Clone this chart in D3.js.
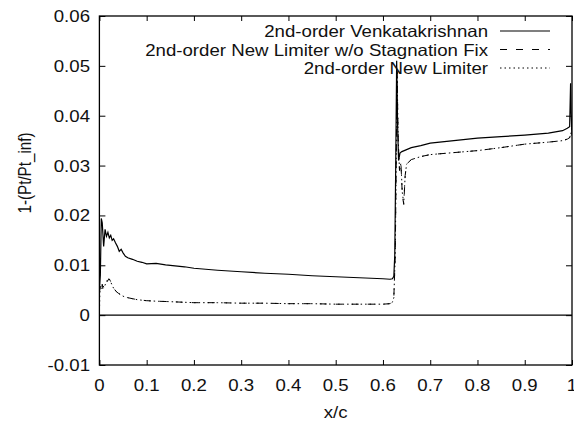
<!DOCTYPE html>
<html>
<head>
<meta charset="utf-8">
<script src="https://cdn.jsdelivr.net/npm/d3@7"></script>
<style>
  html, body { margin: 0; padding: 0; background: #fff; }
  svg { display: block; }
  text { font-family: "Liberation Sans", Arial, sans-serif; fill: #111; }
</style>
</head>
<body>
<svg id="chart" width="574" height="423"></svg>
<script>
// ---- data ----
const xTicks = [0, 0.1, 0.2, 0.3, 0.4, 0.5, 0.6, 0.7, 0.8, 0.9, 1];
const xTickLabels = ["0", "0.1", "0.2", "0.3", "0.4", "0.5", "0.6", "0.7", "0.8", "0.9", "1"];
const yTicks = [-0.01, 0, 0.01, 0.02, 0.03, 0.04, 0.05, 0.06];
const yTickLabels = ["-0.01", "0", "0.01", "0.02", "0.03", "0.04", "0.05", "0.06"];
const seriesNames = ["2nd-order Venkatakrishnan", "2nd-order New Limiter w/o Stagnation Fix", "2nd-order New Limiter"];

const venkX = [0, 0.002, 0.004, 0.006, 0.009, 0.012, 0.015, 0.018, 0.021, 0.024, 0.027, 0.03, 0.034, 0.038, 0.042, 0.046, 0.05, 0.055, 0.06, 0.07, 0.08, 0.09, 0.1, 0.12, 0.14, 0.16, 0.18, 0.2, 0.25, 0.3, 0.35, 0.4, 0.45, 0.5, 0.55, 0.6, 0.615, 0.62, 0.623, 0.625, 0.627, 0.629, 0.631, 0.633, 0.636, 0.64, 0.645, 0.65, 0.66, 0.68, 0.7, 0.75, 0.8, 0.85, 0.9, 0.95, 0.98, 0.99, 0.995, 0.997, 0.998, 1.0];
const venkY = [0.005, 0.008, 0.0194, 0.0185, 0.0138, 0.0172, 0.0158, 0.0166, 0.0155, 0.016, 0.015, 0.0153, 0.0145, 0.0138, 0.0128, 0.0132, 0.0125, 0.0118, 0.0115, 0.0112, 0.0108, 0.0106, 0.0103, 0.0104, 0.0101, 0.0099, 0.0097, 0.0094, 0.009, 0.0087, 0.0084, 0.0082, 0.0079, 0.0077, 0.0075, 0.0073, 0.0072, 0.0073, 0.0078, 0.012, 0.03, 0.051, 0.038, 0.031, 0.0325, 0.0328, 0.033, 0.0332, 0.0336, 0.034, 0.0345, 0.035, 0.0355, 0.0358, 0.0361, 0.0365, 0.037, 0.0375, 0.0378, 0.0465, 0.041, 0.036];

const noFixX = [0, 0.002, 0.004, 0.006, 0.008, 0.011, 0.014, 0.017, 0.02, 0.023, 0.027, 0.031, 0.036, 0.04, 0.045, 0.05, 0.06, 0.07, 0.08, 0.1, 0.12, 0.15, 0.2, 0.25, 0.3, 0.35, 0.4, 0.45, 0.5, 0.55, 0.6, 0.615, 0.62, 0.623, 0.626, 0.628, 0.63, 0.632, 0.635, 0.638, 0.641, 0.644, 0.647, 0.65, 0.66, 0.68, 0.7, 0.75, 0.8, 0.85, 0.9, 0.95, 0.98, 0.99, 0.995, 0.998, 1.0];
const noFixY = [0.0045, 0.0058, 0.0048, 0.0062, 0.0052, 0.0058, 0.0062, 0.0068, 0.0073, 0.0069, 0.006, 0.0053, 0.0047, 0.0044, 0.0041, 0.0038, 0.0035, 0.0033, 0.0031, 0.0029, 0.0028, 0.0027, 0.0025, 0.0025, 0.0024, 0.0024, 0.0023, 0.0023, 0.0022, 0.0022, 0.0022, 0.0023, 0.0026, 0.0035, 0.012, 0.03, 0.049, 0.036, 0.029, 0.0305, 0.024, 0.0222, 0.028, 0.0303, 0.0312, 0.0318, 0.0322, 0.0326, 0.033, 0.0336, 0.0343, 0.0347, 0.035, 0.0353, 0.0356, 0.0365, 0.038];

const newX = [0, 0.001, 0.003, 0.005, 0.007, 0.01, 0.013, 0.016, 0.019, 0.022, 0.026, 0.03, 0.035, 0.04, 0.045, 0.05, 0.06, 0.07, 0.08, 0.1, 0.12, 0.15, 0.2, 0.25, 0.3, 0.35, 0.4, 0.45, 0.5, 0.55, 0.6, 0.615, 0.62, 0.623, 0.626, 0.628, 0.63, 0.632, 0.635, 0.638, 0.641, 0.644, 0.647, 0.65, 0.66, 0.68, 0.7, 0.75, 0.8, 0.85, 0.9, 0.95, 0.98, 0.99, 0.995, 0.998, 1.0];
const newY = [0.0, 0.0046, 0.0055, 0.005, 0.006, 0.0055, 0.0063, 0.0069, 0.0074, 0.0071, 0.0062, 0.0054, 0.0048, 0.0044, 0.0041, 0.0038, 0.0035, 0.0033, 0.0031, 0.0029, 0.0028, 0.0027, 0.0025, 0.0025, 0.0024, 0.0024, 0.0023, 0.0023, 0.0022, 0.0022, 0.0022, 0.0023, 0.0026, 0.0035, 0.012, 0.03, 0.049, 0.036, 0.029, 0.0305, 0.0245, 0.0225, 0.028, 0.0303, 0.0312, 0.0318, 0.0322, 0.0326, 0.033, 0.0336, 0.0343, 0.0347, 0.035, 0.0353, 0.0356, 0.0365, 0.038];

// ---- layout ----
const L = 99.4, R = 572, T = 16, B = 365;
const FS = 16.5, SX = 1.13;
const svg = d3.select("#chart");
const x = d3.scaleLinear().domain([0, 1]).range([L, R]);
const y = d3.scaleLinear().domain([-0.01, 0.06]).range([B, T]);

function stext(g, px, py, str, anchor, rot) {
  const t = g.append("text")
    .attr("transform", rot ? `translate(${px},${py}) rotate(-90) scale(0.92,${SX})` : `translate(${px},${py}) scale(${SX},1)`)
    .attr("text-anchor", anchor)
    .attr("font-size", FS)
    .text(str);
  return t;
}

// clip
svg.append("clipPath").attr("id", "clip").append("rect")
  .attr("x", L).attr("y", T).attr("width", R - L).attr("height", B - T);

// zero axis
svg.append("line").attr("x1", x(0)).attr("x2", x(1)).attr("y1", y(0)).attr("y2", y(0))
  .attr("stroke", "#000").attr("stroke-width", 1.2);

// axes with inward ticks
const axB = d3.axisBottom(x).tickValues(xTicks).tickSize(-5).tickFormat("");
const axT = d3.axisTop(x).tickValues(xTicks).tickSize(-5).tickFormat("");
const axL = d3.axisLeft(y).tickValues(yTicks).tickSize(-6).tickFormat("");
const axR = d3.axisRight(y).tickValues(yTicks).tickSize(-6).tickFormat("");
function styleAxis(g) {
  g.select(".domain").remove();
  g.selectAll(".tick line").attr("stroke", "#000").attr("stroke-width", 1);
}
svg.append("g").attr("transform", `translate(0,${B})`).call(axB).call(styleAxis);
svg.append("g").attr("transform", `translate(0,${T})`).call(axT).call(styleAxis);
svg.append("g").attr("transform", `translate(${L},0)`).call(axL).call(styleAxis);
svg.append("g").attr("transform", `translate(${R},0)`).call(axR).call(styleAxis);

// frame
svg.append("rect").attr("x", L).attr("y", T).attr("width", R - L).attr("height", B - T)
  .attr("fill", "none").attr("stroke", "#000").attr("stroke-width", 1.3);

// tick labels
const labels = svg.append("g");
xTicks.forEach((v, i) => stext(labels, x(v), 391, xTickLabels[i], "middle"));
yTicks.forEach((v, i) => stext(labels, 90, y(v) + 6, yTickLabels[i], "end"));

// axis titles
stext(labels, x(0.5), 418, "x/c", "middle");
stext(labels, 31, 173, "1-(Pt/Pt_inf)", "middle", true);

// series
const line = d3.line().x(d => x(d[0])).y(d => y(d[1]));
const plot = svg.append("g").attr("clip-path", "url(#clip)");
const series = [
  { xs: venkX, ys: venkY, dash: null, w: 1.2 },
  { xs: noFixX, ys: noFixY, dash: "7,9", w: 1 },
  { xs: newX, ys: newY, dash: "1.5,3", w: 1 }
];
series.forEach(s => {
  plot.append("path")
    .datum(s.xs.map((xv, i) => [xv, s.ys[i]]))
    .attr("d", line)
    .attr("fill", "none")
    .attr("stroke", "#000")
    .attr("stroke-width", s.w)
    .attr("stroke-dasharray", s.dash);
});

// legend
const legY = [37, 55.5, 74];
const legLineY = [31, 49.5, 68];
series.forEach((s, i) => {
  stext(svg, 488, legY[i], seriesNames[i], "end");
  svg.append("line").attr("x1", 500).attr("x2", 550).attr("y1", legLineY[i]).attr("y2", legLineY[i])
    .attr("stroke", "#000").attr("stroke-width", s.w).attr("stroke-dasharray", s.dash);
});
</script>
</body>
</html>
